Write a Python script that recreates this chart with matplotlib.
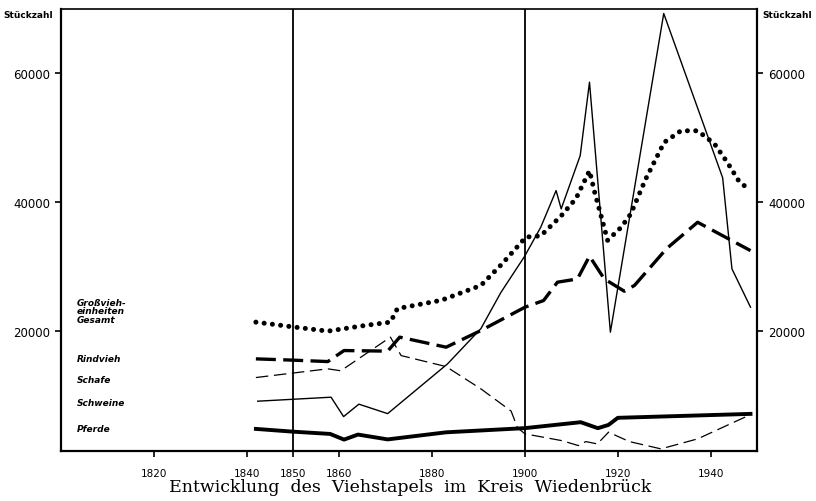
import matplotlib
matplotlib.use("Agg")
import matplotlib.pyplot as plt

# ---------------- data ----------------
gve_years = [1842, 1849.6, 1857.5, 1865.4, 1871, 1872.5, 1882, 1890.5, 1895, 1900.2,
             1903.4, 1907.8, 1911, 1913.9, 1915, 1916.5, 1917.8, 1920.7, 1922.8, 1926,
             1930, 1933.6, 1937.2, 1940.8, 1943.6, 1946, 1948]
gve_vals = [21300, 20600, 19900, 20770, 21300, 23400, 24700, 27000, 30300, 34500,
            34700, 37800, 40500, 44800, 41500, 37500, 34000, 36000, 38100, 43500,
            49200, 51000, 51000, 49000, 46100, 43300, 42000]

rind_years = [1842, 1850, 1857.5, 1861, 1870.4, 1873, 1883, 1890.5, 1900, 1904,
              1907, 1911.3, 1913.9, 1917.1, 1921.4, 1923.6, 1930.5, 1937.2, 1948.6]
rind_vals = [15600, 15400, 15180, 16890, 16800, 18970, 17410, 20000, 23620, 24650,
             27500, 28000, 31540, 28000, 26100, 27000, 32700, 36800, 32400]

schafe_years = [1842, 1850, 1857.5, 1860.3, 1871, 1873.3, 1883, 1890.5, 1897, 1898.4,
                1900, 1908, 1911.5, 1913.1, 1915.6, 1918, 1922.5, 1929.3, 1937.2, 1948.6]
schafe_vals = [12700, 13400, 14050, 13750, 18970, 16110, 14400, 10940, 7500, 4900,
               3960, 2900, 2140, 2760, 2400, 4220, 2760, 1630, 3180, 6950]

schweine_years = [1842.4, 1858.2, 1860.9, 1864.2, 1870.4, 1883.3, 1890.5, 1894.8, 1899.9,
                  1903.4, 1906.7, 1907.8, 1911.9, 1913.9, 1918.4, 1929.9, 1942.6, 1944.6,
                  1948.6]
schweine_vals = [9030, 9650, 6640, 8570, 7100, 14820, 20300, 25900, 31500,
                 36040, 41720, 38880, 47150, 58540, 19740, 69200, 43700, 29570, 23620]

pferde_years = [1842, 1850, 1858, 1861, 1864, 1870.4, 1883, 1900, 1912, 1915.7, 1918,
                1920, 1948.6]
pferde_vals = [4730, 4300, 3950, 3070, 3850, 3100, 4200, 4850, 5770, 4840, 5350,
               6450, 7060]

x_ticks = [1820, 1840, 1850, 1860, 1880, 1900, 1920, 1940]
y_ticks = [20000, 40000, 60000]
y_ticklabels = ["20000", "40000", "60000"]
series_labels = ["Großvieh-\neinheiten\nGesamt", "Rindvieh", "Schafe", "Schweine", "Pferde"]
title = "Entwicklung  des  Viehstapels  im  Kreis  Wiedenbrück"

# ---------------- figure ----------------
W, H = 816, 502
fig = plt.figure(figsize=(W / 100, H / 100), dpi=100)
ax = fig.add_axes([61 / W, 50 / H, 696 / W, 442 / H])
ax.set_xlim(1800, 1950)
ax.set_ylim(1300, 69900)

for s in ax.spines.values():
    s.set_linewidth(1.6)
ax.spines["top"].set_linewidth(1.2)

ax.axvline(1850, color="black", lw=1.3)
ax.axvline(1900, color="black", lw=1.3)

# series
ax.plot(gve_years, gve_vals, color="black", lw=3.6, linestyle=(0, (0.01, 1.65)),
        dash_capstyle="round", solid_capstyle="round")
ax.plot(rind_years, rind_vals, color="black", lw=2.4, dashes=(6.0, 2.2),
        dash_capstyle="butt")
ax.plot(schafe_years, schafe_vals, color="black", lw=0.9, dashes=(10, 4.5))
ax.plot(schweine_years, schweine_vals, color="black", lw=1.0)
ax.plot(pferde_years, pferde_vals, color="black", lw=2.8, solid_joinstyle="round")

# ticks
ax.set_xticks(x_ticks)
ax.set_xticklabels([str(t) for t in x_ticks],
                   family=["Liberation Sans Narrow", "DejaVu Sans"], fontsize=7.5)
ax.set_yticks(y_ticks)
ax.set_yticklabels(y_ticklabels, fontsize=8.5, family="DejaVu Sans")
ax.yaxis.set_ticks_position("both")
ax.tick_params(axis="y", direction="out", length=4, width=1.2, pad=4,
               labelleft=True, labelright=True)
ax.tick_params(axis="x", direction="out", length=4, width=1.2, pad=8)

# axis labels "Stückzahl"
fig.text(3 / W, 1 - 15 / H, "Stückzahl", fontsize=6.5, fontweight="bold",
         ha="left", va="center", family="DejaVu Sans")
fig.text(762 / W, 1 - 16 / H, "Stückzahl", fontsize=6.5, fontweight="bold",
         ha="left", va="center", family="DejaVu Sans")

# series labels inside the plot (left)
label_pos_px = [312, 359, 381, 404, 430]
for lab, ypx in zip(series_labels, label_pos_px):
    ax.text((77 - 61) / 696, (452 - ypx) / 442, lab, transform=ax.transAxes,
            fontsize=6.5, fontstyle="italic", fontweight="bold", ha="left",
            va="center", linespacing=0.95, family="DejaVu Sans")

# title
fig.text(410 / W, 1 - 488 / H, title, fontsize=12.5, ha="center", va="center",
         family="DejaVu Serif")

fig.savefig("out.png", dpi=100)
